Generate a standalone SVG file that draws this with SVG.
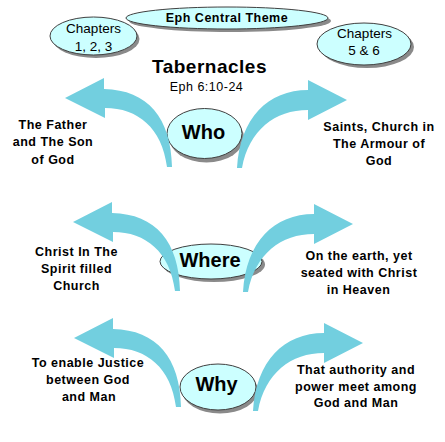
<svg xmlns="http://www.w3.org/2000/svg" xmlns:xlink="http://www.w3.org/1999/xlink" width="445" height="442" viewBox="0 0 445 442">
<style>
.bg{fill:#ffffff}
.el{fill:#ccffff;stroke:#404040;stroke-width:1}
.sh{fill:#8a8a8a}
.arrow{fill:#72cfdf}
.t{font-family:"Liberation Sans",Arial,sans-serif;font-size:12.5px;font-weight:bold;letter-spacing:0.5px;fill:#000;text-anchor:middle}
.r{font-weight:normal}
.ch{font-size:13.5px;letter-spacing:0}
.big{font-size:20px;letter-spacing:0}
.title{font-size:19px}
</style>
<defs>
<path id="arrowL" d="M 104 89 L 104 78 L 65 98 L 105 118 L 105 108 C 138 108 162 128 167 167 L 172 167 C 171 118 148 90 104 89 Z"/>
<path id="arrowR" d="M 308 90 L 308 80 L 347 100 L 308 120 L 308 110 C 275 110 249 130 242 168 L 237 168 C 240 118 268 90 308 90 Z"/>
</defs>
<rect class="bg" x="0" y="0" width="445" height="442"/>

<g id="chapters123">
<ellipse class="sh" cx="96" cy="39" rx="43.5" ry="19"/>
<ellipse class="el" cx="93.5" cy="36" rx="43.5" ry="19"/>
<text class="t r ch" x="93.5" y="33">Chapters</text>
<text class="t r ch" x="93.5" y="51">1, 2, 3</text>
</g>
<g id="chapters56">
<ellipse class="sh" cx="367" cy="47" rx="47" ry="21"/>
<ellipse class="el" cx="364" cy="44" rx="47" ry="21"/>
<text class="t r ch" x="364.5" y="38">Chapters</text>
<text class="t r ch" x="364" y="55">5 &amp; 6</text>
</g>
<g id="central">
<ellipse class="sh" cx="230" cy="21" rx="101" ry="11"/>
<ellipse class="el" cx="227" cy="18" rx="101" ry="11"/>
<text class="t" x="227" y="22">Eph Central Theme</text>
</g>
<g id="title">
<text class="t title" x="209.5" y="73">Tabernacles</text>
<text class="t r" x="206.5" y="91">Eph 6:10-24</text>
</g>

<g id="who">
<ellipse class="sh" cx="206.5" cy="137.5" rx="37.5" ry="25"/>
<ellipse class="el" cx="204.5" cy="133.5" rx="37.5" ry="25"/>
<text class="t big" x="203.5" y="138.5">Who</text>
</g>
<g id="where">
<ellipse class="sh" cx="214" cy="264.5" rx="51" ry="17.5"/>
<ellipse class="el" cx="211" cy="261.5" rx="51" ry="17.5"/>
<text class="t big" x="210" y="267">Where</text>
</g>
<g id="why">
<ellipse class="sh" cx="220" cy="390.5" rx="38" ry="23"/>
<ellipse class="el" cx="218" cy="387" rx="38" ry="23"/>
<text class="t big" x="216.5" y="391">Why</text>
</g>

<g id="connectors">
<use class="arrow" xlink:href="#arrowL" href="#arrowL"/>
<use class="arrow" xlink:href="#arrowR" href="#arrowR"/>
<use class="arrow" xlink:href="#arrowL" href="#arrowL" transform="translate(8,124)"/>
<use class="arrow" xlink:href="#arrowR" href="#arrowR" transform="translate(6,124)"/>
<use class="arrow" xlink:href="#arrowL" href="#arrowL" transform="translate(9,240)"/>
<use class="arrow" xlink:href="#arrowR" href="#arrowR" transform="translate(16,243)"/>
</g>

<g id="who-left">
<text class="t" x="53" y="128.5">The Father</text>
<text class="t" x="53" y="146">and The Son</text>
<text class="t" x="53" y="163.5">of God</text>
</g>
<g id="who-right">
<text class="t" x="379" y="130.5">Saints, Church in</text>
<text class="t" x="379" y="147.5">The Armour of</text>
<text class="t" x="379" y="164.5">God</text>
</g>
<g id="where-left">
<text class="t" x="76.5" y="256">Christ In The</text>
<text class="t" x="76.5" y="273">Spirit filled</text>
<text class="t" x="76.5" y="290">Church</text>
</g>
<g id="where-right">
<text class="t" x="359" y="260">On the earth, yet</text>
<text class="t" x="359" y="277">seated with Christ</text>
<text class="t" x="358.5" y="294">in Heaven</text>
</g>
<g id="why-left">
<text class="t" x="88" y="367">To enable Justice</text>
<text class="t" x="88" y="384">between God</text>
<text class="t" x="89" y="401">and Man</text>
</g>
<g id="why-right">
<text class="t" x="356" y="374">That authority and</text>
<text class="t" x="356" y="391">power meet among</text>
<text class="t" x="356" y="407">God and Man</text>
</g>
</svg>
